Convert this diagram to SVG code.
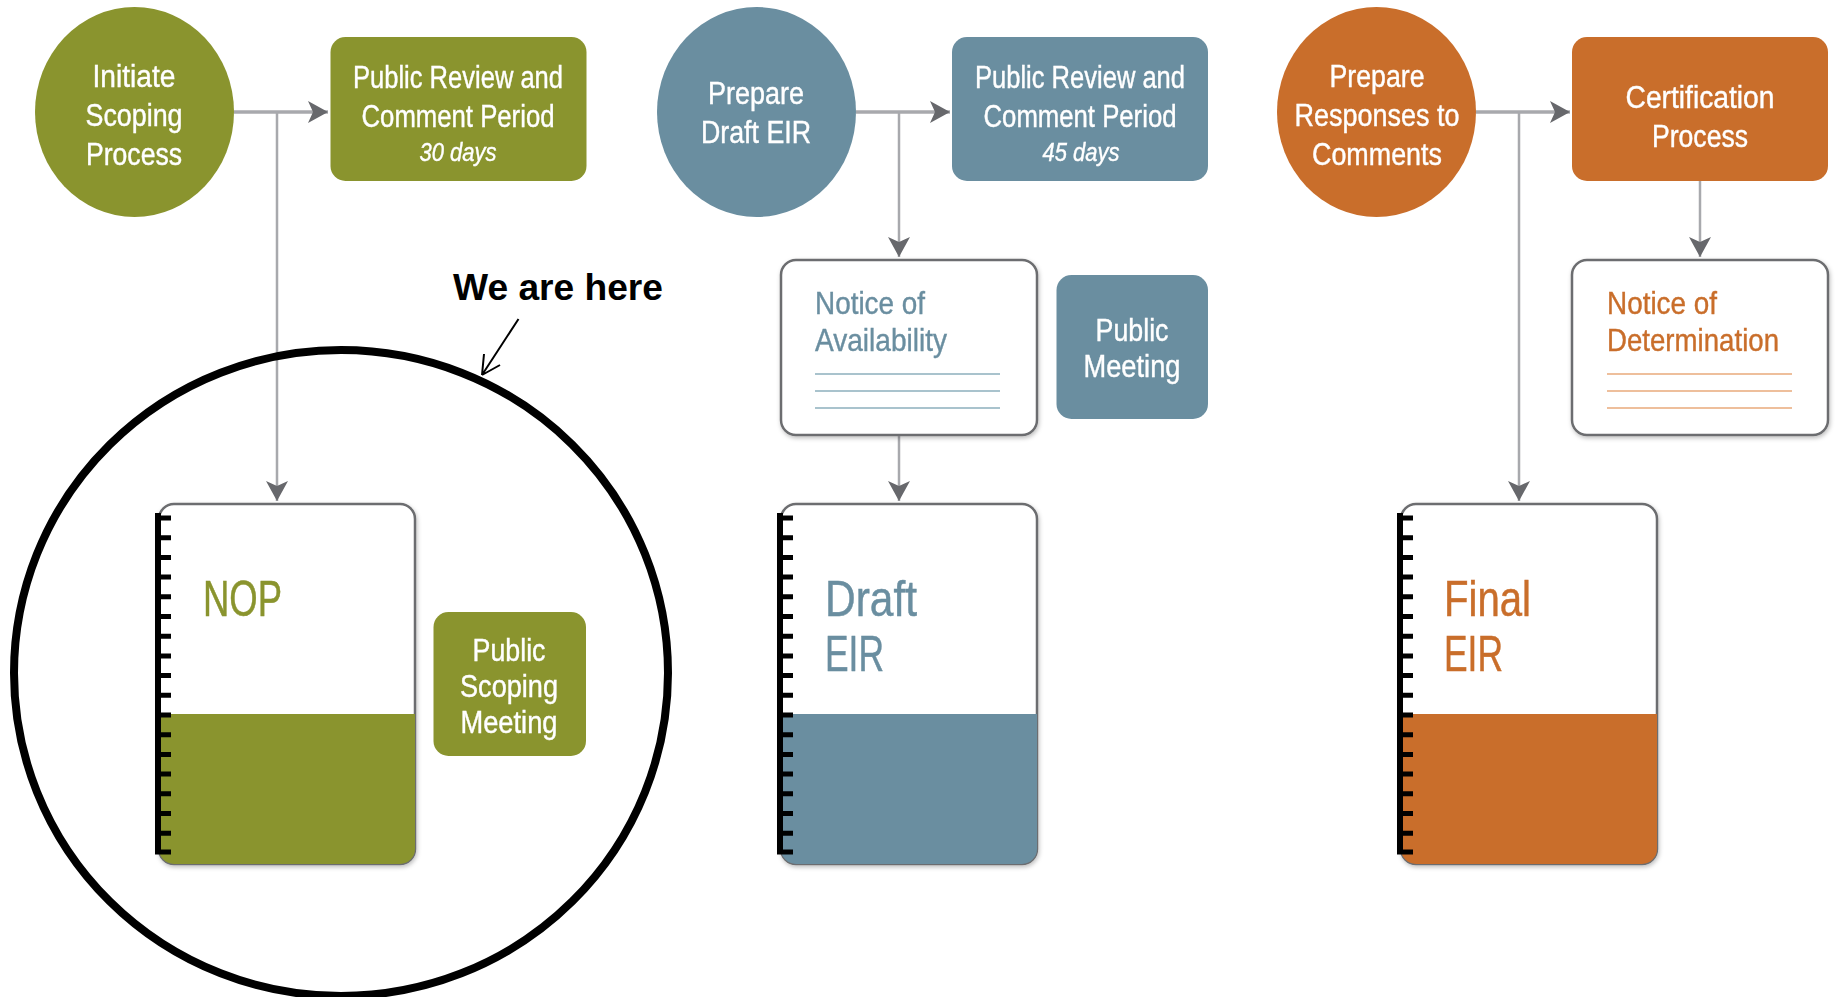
<svg xmlns="http://www.w3.org/2000/svg" xmlns:xlink="http://www.w3.org/1999/xlink" width="1839" height="997" viewBox="0 0 1839 997">
<style>
text{font-family:"Liberation Sans Narrow","Liberation Sans",Arial,sans-serif;}
.w{fill:#fff;stroke:#fff;stroke-width:.4;font-size:31px;text-anchor:middle;filter:url(#soft)}
.i{font-style:italic;font-size:26px}
.olive{fill:#8a942e}.blue{fill:#6a8ea0}.orange{fill:#c96e2b}
.n{font-size:32px;stroke-width:.4;filter:url(#soft)}.b{font-size:50px;stroke-width:.5;filter:url(#soft)}
.tb{stroke:#6a8ea0}.to{stroke:#c96e2b}.tg{stroke:#8a942e}
.ln{stroke-width:2;fill:none}
.card{fill:#fff;stroke:#6c6d6f;stroke-width:2.5;filter:url(#sh)}
.c{fill:none;stroke:#a8a9ad;stroke-width:2.5}
.h{stroke:#a8a9ad;stroke-width:3.5;fill:none}
.head{fill:#67686c}
</style>
<defs>
<filter id="soft" x="-5%" y="-10%" width="110%" height="120%"><feGaussianBlur stdDeviation=".45"/></filter>
<filter id="sh" x="-5%" y="-5%" width="112%" height="112%"><feDropShadow dx="1" dy="2" stdDeviation="2" flood-color="#000" flood-opacity=".25"/></filter>
<marker id="ah" markerUnits="userSpaceOnUse" markerWidth="22" markerHeight="24" refX="20" refY="11" orient="auto"><path class="head" d="M0 0L20 11L0 22L5 11Z"/></marker>
<g id="spine"><rect x="0" y="0" width="6" height="341" fill="#000"/><path stroke="#000" stroke-width="5" d="M0 5H16M0 24.700H16M0 44.400H16M0 64.100H16M0 83.800H16M0 103.500H16M0 123.200H16M0 142.900H16M0 162.600H16M0 182.300H16M0 202H16M0 221.700H16M0 241.400H16M0 261.100H16M0 280.800H16M0 300.500H16M0 320.200H16M0 339H16"/></g>
</defs>
<g id="connectors">
<path class="h" d="M234 112H328" marker-end="url(#ah)"/>
<path class="c" d="M277 112V501" marker-end="url(#ah)"/>
<path class="h" d="M856 112H950" marker-end="url(#ah)"/>
<path class="c" d="M899 112V257" marker-end="url(#ah)"/>
<path class="c" d="M899 435V501" marker-end="url(#ah)"/>
<path class="h" d="M1476 112H1570" marker-end="url(#ah)"/>
<path class="c" d="M1519 112V501" marker-end="url(#ah)"/>
<path class="c" d="M1700 181V257" marker-end="url(#ah)"/>
</g>
<g id="initiate"><ellipse class="olive" cx="134.500" cy="112" rx="99.500" ry="105"/>
<text class="w" x="134" y="87" textLength="83" lengthAdjust="spacingAndGlyphs">Initiate</text>
<text class="w" x="134" y="126" textLength="97" lengthAdjust="spacingAndGlyphs">Scoping</text>
<text class="w" x="134" y="165" textLength="96" lengthAdjust="spacingAndGlyphs">Process</text></g>
<g id="review1"><rect class="olive" x="330.500" y="37" width="256" height="144" rx="15"/>
<text class="w" x="458" y="88" textLength="210" lengthAdjust="spacingAndGlyphs">Public Review and</text>
<text class="w" x="458" y="127" textLength="193" lengthAdjust="spacingAndGlyphs">Comment Period</text>
<text class="w i" x="458" y="161" textLength="77" lengthAdjust="spacingAndGlyphs">30 days</text></g>
<g id="nop"><rect class="card" x="159" y="504" width="256" height="360" rx="15"/>
<path class="olive" d="M159 714H415V849a15 15 0 0 1-15 15H174a15 15 0 0 1-15-15Z"/>
<use xlink:href="#spine" href="#spine" x="155" y="513"/>
<text class="olive b tg" x="203" y="616" textLength="79" lengthAdjust="spacingAndGlyphs">NOP</text></g>
<g id="scoping-meeting"><rect class="olive" x="433.500" y="612" width="152.500" height="144" rx="15"/>
<text class="w" x="509" y="661" textLength="73" lengthAdjust="spacingAndGlyphs">Public</text>
<text class="w" x="509" y="697" textLength="98" lengthAdjust="spacingAndGlyphs">Scoping</text>
<text class="w" x="509" y="733" textLength="97" lengthAdjust="spacingAndGlyphs">Meeting</text></g>
<g id="prepare-draft"><ellipse class="blue" cx="756.500" cy="112" rx="99.500" ry="105"/>
<text class="w" x="756" y="104" textLength="96" lengthAdjust="spacingAndGlyphs">Prepare</text>
<text class="w" x="756" y="143" textLength="110" lengthAdjust="spacingAndGlyphs">Draft EIR</text></g>
<g id="review2"><rect class="blue" x="952" y="37" width="256" height="144" rx="15"/>
<text class="w" x="1080" y="88" textLength="210" lengthAdjust="spacingAndGlyphs">Public Review and</text>
<text class="w" x="1080" y="127" textLength="193" lengthAdjust="spacingAndGlyphs">Comment Period</text>
<text class="w i" x="1081" y="161" textLength="77" lengthAdjust="spacingAndGlyphs">45 days</text></g>
<g id="noa"><rect class="card" x="781" y="260" width="256" height="175" rx="15"/>
<text class="blue n tb" x="815" y="314" textLength="110" lengthAdjust="spacingAndGlyphs">Notice of</text>
<text class="blue n tb" x="815" y="351" textLength="132" lengthAdjust="spacingAndGlyphs">Availability</text>
<path class="ln" stroke="#a9c3cd" d="M815 374H1000M815 391H1000M815 408H1000"/></g>
<g id="public-meeting"><rect class="blue" x="1056.500" y="275" width="151.500" height="144" rx="15"/>
<text class="w" x="1132" y="341" textLength="73" lengthAdjust="spacingAndGlyphs">Public</text>
<text class="w" x="1132" y="377" textLength="97" lengthAdjust="spacingAndGlyphs">Meeting</text></g>
<g id="draft-eir"><rect class="card" x="781" y="504" width="256" height="360" rx="15"/>
<path class="blue" d="M781 714H1037V849a15 15 0 0 1-15 15H796a15 15 0 0 1-15-15Z"/>
<use xlink:href="#spine" href="#spine" x="777" y="513"/>
<text class="blue b tb" x="825" y="616" textLength="92" lengthAdjust="spacingAndGlyphs">Draft</text>
<text class="blue b tb" x="825" y="671" textLength="59" lengthAdjust="spacingAndGlyphs">EIR</text></g>
<g id="prepare-responses"><ellipse class="orange" cx="1376.500" cy="112" rx="99.500" ry="105"/>
<text class="w" x="1377" y="87" textLength="95" lengthAdjust="spacingAndGlyphs">Prepare</text>
<text class="w" x="1377" y="126" textLength="165" lengthAdjust="spacingAndGlyphs">Responses to</text>
<text class="w" x="1377" y="165" textLength="130" lengthAdjust="spacingAndGlyphs">Comments</text></g>
<g id="certification"><rect class="orange" x="1572" y="37" width="256" height="144" rx="15"/>
<text class="w" x="1700" y="108" textLength="149" lengthAdjust="spacingAndGlyphs">Certification</text>
<text class="w" x="1700" y="147" textLength="96" lengthAdjust="spacingAndGlyphs">Process</text></g>
<g id="nod"><rect class="card" x="1572" y="260" width="256" height="175" rx="15"/>
<text class="orange n to" x="1607" y="314" textLength="110" lengthAdjust="spacingAndGlyphs">Notice of</text>
<text class="orange n to" x="1607" y="351" textLength="172" lengthAdjust="spacingAndGlyphs">Determination</text>
<path class="ln" stroke="#eebf9c" d="M1607 374H1792M1607 391H1792M1607 408H1792"/></g>
<g id="final-eir"><rect class="card" x="1401" y="504" width="256" height="360" rx="15"/>
<path class="orange" d="M1401 714H1657V849a15 15 0 0 1-15 15H1416a15 15 0 0 1-15-15Z"/>
<use xlink:href="#spine" href="#spine" x="1397" y="513"/>
<text class="orange b to" x="1444" y="616" textLength="87" lengthAdjust="spacingAndGlyphs">Final</text>
<text class="orange b to" x="1444" y="671" textLength="59" lengthAdjust="spacingAndGlyphs">EIR</text></g>
<g id="we-are-here">
<ellipse cx="341" cy="673" rx="327" ry="323" fill="none" stroke="#000" stroke-width="8"/>
<text x="453" y="300" font-size="36" font-weight="bold" fill="#000" style="font-family:'Liberation Sans',Arial,sans-serif" textLength="210" lengthAdjust="spacingAndGlyphs">We are here</text>
<path d="M518.500 319L482 375M482 375L484 354M482 375L500 365" stroke="#000" stroke-width="2" fill="none"/>
</g>
</svg>
